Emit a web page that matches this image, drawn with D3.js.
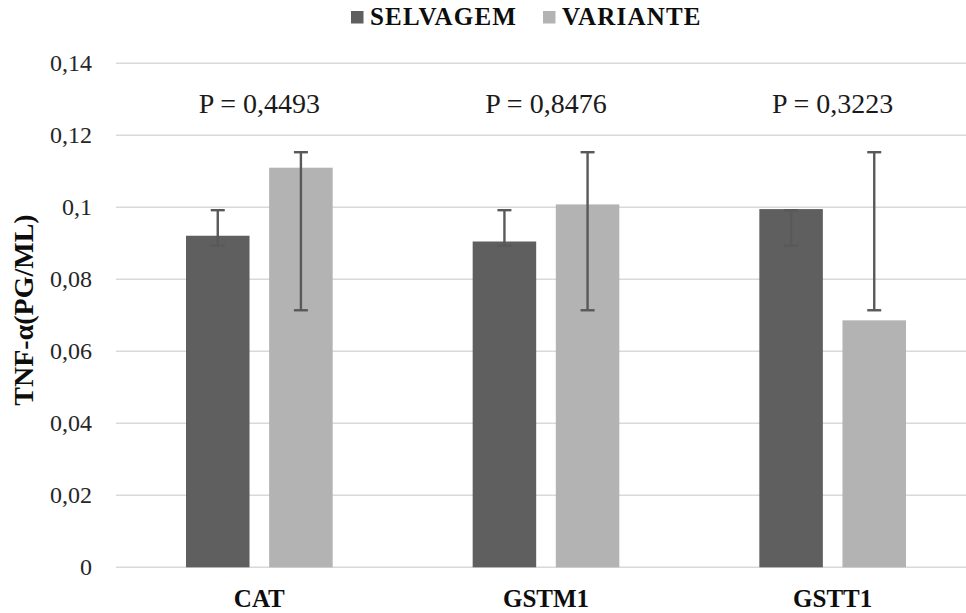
<!DOCTYPE html>
<html>
<head>
<meta charset="utf-8">
<script src="https://cdn.jsdelivr.net/npm/d3@7"></script>
<style>
  body { margin: 0; background: #fff; }
  svg text { font-family: "Liberation Serif", "Times New Roman", "DejaVu Serif", serif !important; }
</style>
</head>
<body>
<div id="chart"></div>
<script>
var width = 966, height = 613;
var margin = { top: 63.3, right: -10, bottom: 45.7, left: 116 };

// data
var categories = ["CAT", "GSTM1", "GSTT1"];
var series = ["SELVAGEM", "VARIANTE"];
var selvagem = [0.0921, 0.0905, 0.0995];
var variante = [0.1110, 0.1008, 0.0686];
var selvagemLow = [0.0893, 0.0893, 0.0893];
var selvagemHigh = [0.0992, 0.0992, 0.0992];
var varianteLow = [0.0714, 0.0714, 0.0714];
var varianteHigh = [0.1153, 0.1153, 0.1153];
var pLabels = ["P = 0,4493", "P = 0,8476", "P = 0,3223"];
var yTicks = [0, 0.02, 0.04, 0.06, 0.08, 0.1, 0.12, 0.14];

var colors = { "SELVAGEM": "#5f5f5f", "VARIANTE": "#b3b3b3" };

var rows = categories.map(function (c, i) {
  return {
    cat: c,
    p: pLabels[i],
    bars: [
      { key: "SELVAGEM", value: selvagem[i], lo: selvagemLow[i], hi: selvagemHigh[i] },
      { key: "VARIANTE", value: variante[i], lo: varianteLow[i], hi: varianteHigh[i] }
    ]
  };
});

var svg = d3.select("#chart").append("svg")
    .attr("width", width)
    .attr("height", height)
    .style("display", "block");

var x0 = d3.scaleBand()
    .domain(categories)
    .range([margin.left, width - margin.right]);

var x1 = d3.scaleBand()
    .domain(series)
    .range([70, x0.bandwidth() - 70])
    .paddingInner(0.236);

var y = d3.scaleLinear()
    .domain([0, 0.14])
    .range([height - margin.bottom, margin.top]);

var fmt = d3.formatLocale({ decimal: ",", thousands: ".", grouping: [3], currency: ["", ""] }).format("~g");

// gridlines
svg.append("g")
    .selectAll("line")
    .data(yTicks)
    .enter().append("line")
    .attr("x1", margin.left)
    .attr("x2", width)
    .attr("y1", function (d) { return y(d); })
    .attr("y2", function (d) { return y(d); })
    .attr("stroke", "#d9d9d9")
    .attr("stroke-width", 1.6);

// y axis tick labels
var yAxis = d3.axisLeft(y).tickValues(yTicks).tickFormat(fmt).tickSize(0).tickPadding(0);
svg.append("g")
    .attr("transform", "translate(92,0)")
    .call(yAxis)
    .call(function (g) { g.select(".domain").remove(); })
    .selectAll("text")
    .attr("font-size", 24)
    .attr("fill", "#262626")
    .attr("dy", "0.32em");

var group = svg.append("g")
    .selectAll("g")
    .data(rows)
    .enter().append("g")
    .attr("transform", function (d) { return "translate(" + x0(d.cat) + ",0)"; });

group.selectAll("rect")
    .data(function (d) { return d.bars; })
    .enter().append("rect")
    .attr("x", function (d) { return x1(d.key); })
    .attr("y", function (d) { return y(d.value); })
    .attr("width", x1.bandwidth())
    .attr("height", function (d) { return y(0) - y(d.value); })
    .attr("fill", function (d) { return colors[d.key]; });

// error bars
var err = group.selectAll("g.err")
    .data(function (d) { return d.bars; })
    .enter().append("g")
    .attr("class", "err")
    .attr("stroke", "#595959")
    .attr("stroke-width", 2.4);

err.append("line")
    .attr("x1", function (d) { return x1(d.key) + x1.bandwidth() / 2; })
    .attr("x2", function (d) { return x1(d.key) + x1.bandwidth() / 2; })
    .attr("y1", function (d) { return y(d.lo); })
    .attr("y2", function (d) { return y(d.hi); });

err.selectAll("line.cap")
    .data(function (d) { return [d.lo, d.hi].map(function (v) { return { key: d.key, v: v }; }); })
    .enter().append("line")
    .attr("class", "cap")
    .attr("x1", function (d) { return x1(d.key) + x1.bandwidth() / 2 - 7; })
    .attr("x2", function (d) { return x1(d.key) + x1.bandwidth() / 2 + 7; })
    .attr("y1", function (d) { return y(d.v); })
    .attr("y2", function (d) { return y(d.v); });

// p values
group.append("text")
    .attr("x", x0.bandwidth() / 2)
    .attr("y", 113)
    .attr("text-anchor", "middle")
    .attr("font-size", 28)
    .attr("fill", "#1a1a1a")
    .text(function (d) { return d.p; });

// category labels
group.append("text")
    .attr("x", x0.bandwidth() / 2)
    .attr("y", 606.5)
    .attr("text-anchor", "middle")
    .attr("font-size", 25)
    .attr("font-weight", "bold")
    .attr("fill", "#0d0d0d")
    .text(function (d) { return d.cat; });

// y title
svg.append("text")
    .attr("transform", "translate(33,310) rotate(-90)")
    .attr("text-anchor", "middle")
    .attr("font-size", 28)
    .attr("font-weight", "bold")
    .attr("fill", "#0d0d0d")
    .text("TNF-α(PG/ML)");

// legend
var legendX = [351, 543];
var legend = svg.append("g")
    .selectAll("g")
    .data(series)
    .enter().append("g")
    .attr("transform", function (d, i) { return "translate(" + legendX[i] + ",0)"; });

legend.append("rect")
    .attr("x", 0)
    .attr("y", 11)
    .attr("width", 12.5)
    .attr("height", 12.5)
    .attr("fill", function (d) { return colors[d]; });

legend.append("text")
    .attr("x", 19)
    .attr("y", 25)
    .attr("font-size", 25)
    .attr("font-weight", "bold")
    .attr("letter-spacing", 1.2)
    .attr("fill", "#0d0d0d")
    .text(function (d) { return d; });
</script>
</body>
</html>
